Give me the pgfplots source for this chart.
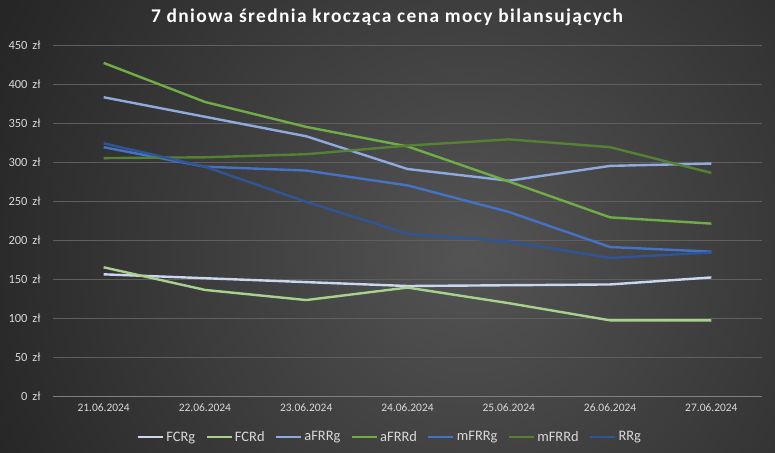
\documentclass[border=0pt]{standalone}
\usepackage{fontspec}
\setmainfont{Carlito}
\usepackage{pgfplots}
\pgfplotsset{compat=1.18}

\definecolor{bgout}{RGB}{38,38,38}
\definecolor{bgin}{RGB}{84,84,84}
\definecolor{gridc}{RGB}{95,95,95}
\definecolor{axisc}{RGB}{128,128,128}
\definecolor{txt}{RGB}{217,217,217}
\definecolor{cFCRg}{RGB}{201,215,240}
\definecolor{cFCRd}{RGB}{169,209,142}
\definecolor{caFRRg}{RGB}{143,170,220}
\definecolor{caFRRd}{RGB}{112,173,71}
\definecolor{cmFRRg}{RGB}{68,114,196}
\definecolor{cmFRRd}{RGB}{84,130,53}
\definecolor{cRRg}{RGB}{47,85,151}

\begin{document}
\begin{tikzpicture}[x=1bp,y=1bp]
\useasboundingbox (0,0) rectangle (775,453);
\fill[bgout] (0,0) rectangle (775,453);
\begin{scope}
\clip (0,0) rectangle (775,453);
\shade[inner color=bgin, outer color=bgout] (470,200) circle (520);
\end{scope}
\node[text=white, font=\fontsize{19.5}{22}\selectfont\bfseries\addfontfeatures{LetterSpace=7}] at (387,436) {7 dniowa średnia krocząca cena mocy bilansujących};

\begin{axis}[
    at={(53bp,57bp)}, anchor=south west,
    scale only axis,
    width=709bp, height=351bp,
    xmin=-0.5, xmax=6.5,
    ymin=0, ymax=450,
    xtick={0,1,2,3,4,5,6},
    xticklabels={21.06.2024,22.06.2024,23.06.2024,24.06.2024,25.06.2024,26.06.2024,27.06.2024},
    major x tick style={draw=none},
    extra x ticks={-0.5,0.5,1.5,2.5,3.5,4.5,5.5,6.5},
    extra x tick labels={},
    extra x tick style={grid=none, tick style={draw=axisc, line width=0.6bp}, major tick length=5bp, tick align=outside},
    ytick={0,50,...,450},
    yticklabel={\pgfmathprintnumber{\tick}\hspace{5bp}zł},
    /pgf/number format/assume math mode=true,
    ymajorgrids,
    grid style={gridc, line width=0.6bp},
    axis line style={draw=none},
    axis x line*=bottom,
    x axis line style={draw=axisc, line width=0.6bp},
    axis y line*=left,
    y axis line style={draw=none},
    major y tick style={draw=none},
    tick label style={text=txt},
    xticklabel style={yshift=-4bp, font=\fontsize{11.5}{13}\selectfont},
    yticklabel style={xshift=-9bp, font=\fontsize{12.5}{14}\selectfont},
    legend style={draw=none, fill=none, text=txt, font=\fontsize{14.5}{16}\selectfont,
        at={(0.475,-0.117)}, anchor=center, legend columns=-1,
        /tikz/every even column/.append style={column sep=8bp}},
    legend image code/.code={\draw[#1, line width=2.8bp] (0bp,0bp) -- (25bp,0bp);},
    every axis plot/.append style={line width=2.4bp, line join=round, mark=none},
]
\addplot[cFCRg] coordinates {(0,156) (1,151) (2,146) (3,141) (4,142) (5,143) (6,152)};
\addlegendentry{FCRg}
\addplot[cFCRd] coordinates {(0,165) (1,136) (2,123) (3,139) (4,119) (5,97) (6,97)};
\addlegendentry{FCRd}
\addplot[caFRRg] coordinates {(0,383) (1,358) (2,333) (3,291) (4,276) (5,295) (6,298)};
\addlegendentry{aFRRg}
\addplot[caFRRd] coordinates {(0,427) (1,377) (2,345) (3,320) (4,275) (5,229) (6,221)};
\addlegendentry{aFRRd}
\addplot[cmFRRg] coordinates {(0,319) (1,294) (2,289) (3,270) (4,236) (5,191) (6,185)};
\addlegendentry{mFRRg}
\addplot[cmFRRd] coordinates {(0,305) (1,306) (2,310) (3,321) (4,329) (5,319) (6,286)};
\addlegendentry{mFRRd}
\addplot[cRRg] coordinates {(0,324) (1,294) (2,249) (3,208) (4,198) (5,177) (6,184)};
\addlegendentry{RRg}
\end{axis}
\end{tikzpicture}
\end{document}
